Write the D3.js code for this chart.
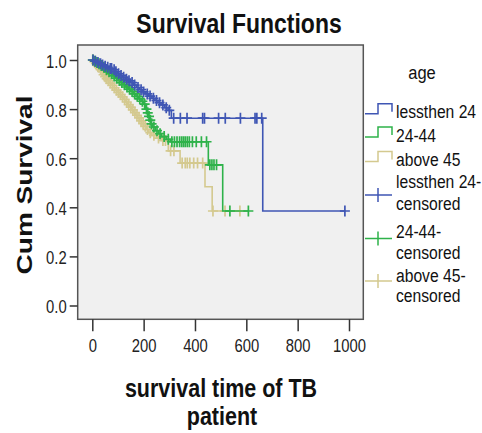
<!DOCTYPE html>
<html>
<head>
<meta charset="utf-8">
<script src="https://cdn.jsdelivr.net/npm/d3@7"></script>
<style>
  html, body { margin: 0; padding: 0; background: #fff; }
  svg { display: block; }
  text { font-family: "Liberation Sans", Arial, sans-serif; }
</style>
</head>
<body>
<svg id="chart" width="482" height="433"></svg>
<script>
// ---------------- DATA ----------------
const groupNames = ["lessthen 24", "24-44", "above 45"];
const legendTitle = "age";
const chartTitle = "Survival Functions";
const yTitle = "Cum Survival";
const xTitleLines = ["survival time of TB", "patient"];
const xTicks = [0, 200, 400, 600, 800, 1000];
const yTicks = [0.0, 0.2, 0.4, 0.6, 0.8, 1.0];

// lessthen 24
const blueEventTimes = [8,18,27,36,45,55,66,78,88,98,108,118,128,138,148,160,172,184,196,208,220,232,244,256,268,282,295,308,664];
const blueSurv = [0.995,0.99,0.985,0.98,0.975,0.97,0.965,0.96,0.952,0.944,0.937,0.93,0.922,0.915,0.908,0.898,0.888,0.879,0.87,0.862,0.853,0.844,0.835,0.826,0.817,0.806,0.795,0.763,0.385];
const blueCensored = [3,12,22,32,40,50,60,70,75,85,92,102,112,122,133,143,155,165,178,190,200,214,225,238,250,262,275,288,300,317,343,369,430,437,492,518,577,634,641,660,984];

// 24-44
const greenEventTimes = [6,14,22,30,40,50,60,70,80,90,100,110,120,130,140,150,160,170,180,190,200,208,213,218,223,228,234,245,258,270,288,304,452,508];
const greenSurv = [0.995,0.99,0.985,0.978,0.97,0.96,0.952,0.944,0.935,0.926,0.917,0.908,0.899,0.89,0.881,0.872,0.862,0.852,0.842,0.832,0.82,0.80,0.785,0.77,0.755,0.74,0.727,0.712,0.70,0.688,0.677,0.667,0.573,0.385];
const greenCensored = [2,10,18,26,35,45,55,65,75,85,95,105,115,125,135,145,155,165,175,185,195,204,211,216,221,226,231,240,252,264,280,296,310,320,330,340,348,355,362,370,378,390,405,425,445,458,466,474,484,536,608];

// above 45
const beigeEventTimes = [5,10,16,22,28,34,40,46,52,58,65,72,80,88,96,104,112,120,128,136,144,152,160,168,176,184,192,200,210,220,232,250,268,296,342,439,467];
const beigeSurv = [0.993,0.986,0.978,0.97,0.962,0.954,0.94,0.932,0.924,0.916,0.906,0.897,0.887,0.877,0.868,0.859,0.85,0.84,0.829,0.818,0.808,0.797,0.786,0.775,0.764,0.752,0.741,0.73,0.717,0.704,0.693,0.682,0.672,0.63,0.58,0.484,0.385];
const beigeCensored = [2,8,14,20,26,32,38,44,50,56,63,70,78,86,94,102,110,118,126,134,142,150,158,166,174,182,190,198,206,215,226,240,258,275,285,305,318,350,362,370,380,395,410,430,470,517,575];

const colors = ["#3f56b4", "#2eb24a", "#d4c98f"];

// ---------------- LAYOUT ----------------
const svg = d3.select("#chart");
const plot = { left: 77.7, right: 363.3, top: 45, bottom: 319.3 };
const x = d3.scaleLinear().domain([0, 1000]).range([92.3, 349]);
const y = d3.scaleLinear().domain([0, 1]).range([305.5, 60]);

svg.append("rect").attr("x", 0).attr("y", 0).attr("width", 482).attr("height", 433).attr("fill", "#fff");

svg.append("rect")
  .attr("x", plot.left).attr("y", plot.top)
  .attr("width", plot.right - plot.left).attr("height", plot.bottom - plot.top)
  .attr("fill", "#f0f0f0").attr("stroke", "#555").attr("stroke-width", 1.5);

function label(g, tx, ty, str, size, sx, anchor, weight, rot) {
  return g.append("text")
    .attr("transform", `translate(${tx},${ty}) scale(${sx},1)` + (rot ? ` rotate(${rot})` : ""))
    .attr("text-anchor", anchor)
    .attr("font-size", size)
    .attr("font-weight", weight || "normal")
    .attr("fill", "#111")
    .text(str);
}

// axes
const yAxis = svg.append("g").attr("transform", `translate(${plot.left},0)`)
  .call(d3.axisLeft(y).tickValues(yTicks).tickFormat(d3.format(".1f")).tickSize(8).tickSizeOuter(0));
yAxis.select(".domain").remove();
yAxis.selectAll(".tick line").attr("stroke", "#333").attr("stroke-width", 1.5);
yAxis.selectAll(".tick text")
  .attr("x", 0).attr("dy", null)
  .attr("transform", "translate(-11,7) scale(0.78,1)")
  .attr("font-size", 19).attr("fill", "#222")
  .style("font-family", '"Liberation Sans", Arial, sans-serif');

const xAxis = svg.append("g").attr("transform", `translate(0,${plot.bottom})`)
  .call(d3.axisBottom(x).tickValues(xTicks).tickFormat(d3.format("d")).tickSize(12).tickSizeOuter(0));
xAxis.select(".domain").remove();
xAxis.selectAll(".tick line").attr("stroke", "#333").attr("stroke-width", 1.5);
xAxis.selectAll(".tick text")
  .attr("y", 0).attr("dy", null)
  .attr("transform", "translate(0,32.5) scale(0.78,1)")
  .attr("font-size", 19).attr("fill", "#222")
  .style("font-family", '"Liberation Sans", Arial, sans-serif');

// titles
label(svg, 239, 33, chartTitle, 28, 0.82, "middle", "bold");
label(svg, 221, 396.5, xTitleLines[0], 25, 0.86, "middle", "bold");
label(svg, 222, 424.5, xTitleLines[1], 25, 0.86, "middle", "bold");
label(svg, 31.5, 185, yTitle, 28, 0.82, "middle", "bold", -90);

// ---------------- SERIES ----------------
const series = [
  { times: beigeEventTimes, surv: beigeSurv, cens: beigeCensored, color: colors[2] },
  { times: greenEventTimes, surv: greenSurv, cens: greenCensored, color: colors[1] },
  { times: blueEventTimes, surv: blueSurv, cens: blueCensored, color: colors[0] }
];

const line = d3.line().x(d => x(d[0])).y(d => y(d[1])).curve(d3.curveStepAfter);
const bis = d3.bisector(d => d).right;

series.forEach(s => {
  const pts = [[0, 1]].concat(s.times.map((t, i) => [t, s.surv[i]]));
  const tMax = Math.max(d3.max(s.cens), d3.max(s.times));
  pts.push([tMax, s.surv[s.surv.length - 1]]);
  const survAt = t => { const i = bis(s.times, t); return i === 0 ? 1 : s.surv[i - 1]; };
  const g = svg.append("g");
  g.append("path").attr("d", line(pts)).attr("fill", "none")
    .attr("stroke", s.color).attr("stroke-width", 1.6);
  g.selectAll("path.c").data(s.cens).join("path").attr("class", "c")
    .attr("d", t => {
      const cx = x(t), cy = y(survAt(t));
      return `M${cx - 5},${cy}H${cx + 5}M${cx},${cy - 5.5}V${cy + 5.5}`;
    })
    .attr("fill", "none").attr("stroke", s.color).attr("stroke-width", 1.7);
});

// ---------------- LEGEND ----------------
const lg = svg.append("g");
label(lg, 422, 79, legendTitle, 19, 0.87, "middle");
const lx0 = 365, lx1 = 378, lx2 = 392, tx = 396;
const stepItems = [
  { name: groupNames[0], c: 111.7, color: colors[0] },
  { name: groupNames[1], c: 135, color: colors[1] },
  { name: groupNames[2], c: 159.5, color: colors[2] }
];
stepItems.forEach(it => {
  lg.append("path")
    .attr("d", `M${lx0},${it.c + 2}H${lx1}V${it.c - 8}H${lx2}V${it.c}`)
    .attr("fill", "none").attr("stroke", it.color).attr("stroke-width", 1.5);
  label(lg, tx, it.c + 6.5, it.name, 18, 0.87, "start");
});
const censItems = [
  { name: groupNames[0] + "-", l1: 181.7, l2: 203.3, sy: 195, color: colors[0] },
  { name: groupNames[1] + "-", l1: 231.7, l2: 252.5, sy: 238.5, color: colors[1] },
  { name: groupNames[2] + "-", l1: 275, l2: 296, sy: 281, color: colors[2] }
];
censItems.forEach(it => {
  lg.append("path")
    .attr("d", `M${lx0},${it.sy}H${lx2}M${lx1},${it.sy - 7}V${it.sy + 7}`)
    .attr("fill", "none").attr("stroke", it.color).attr("stroke-width", 1.5);
  const t = lg.append("text")
    .attr("transform", `translate(${tx},${it.l1 + 6.5}) scale(0.87,1)`)
    .attr("font-size", 18).attr("fill", "#111");
  t.append("tspan").attr("x", 0).attr("y", 0).text(it.name);
  t.append("tspan").attr("x", 0).attr("y", it.l2 - it.l1).text("censored");
});
</script>
</body>
</html>
